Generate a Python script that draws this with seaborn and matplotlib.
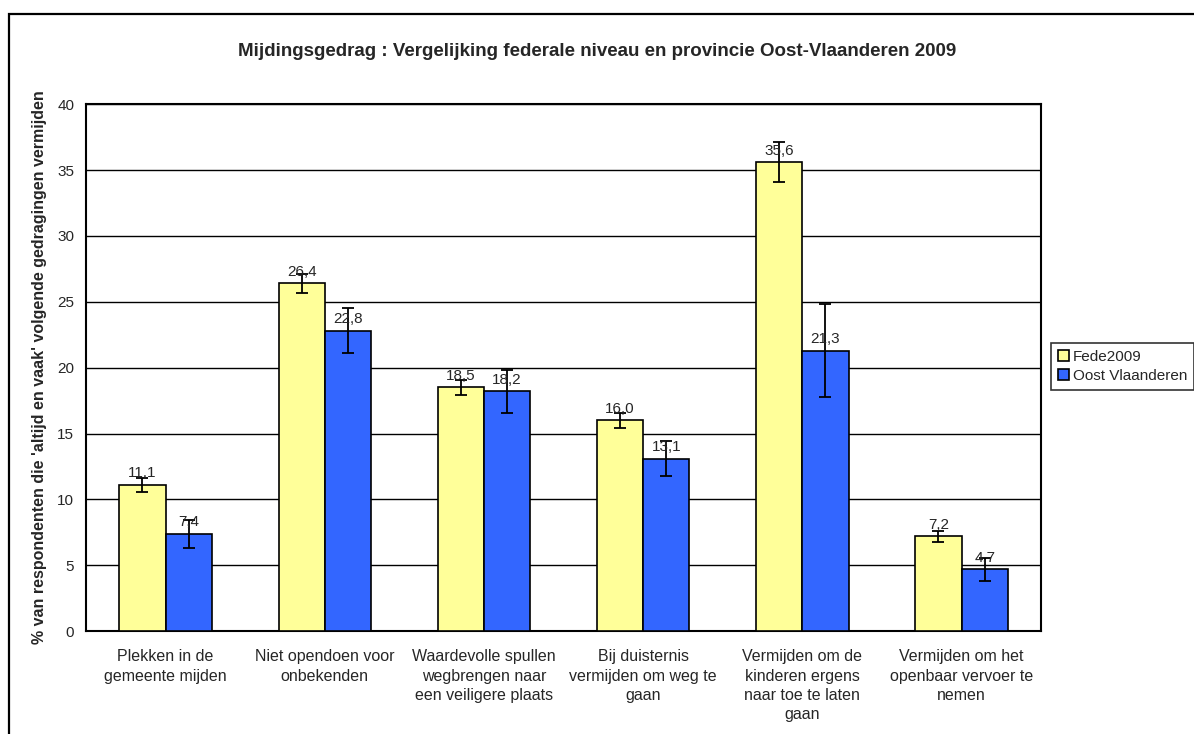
import matplotlib
matplotlib.use("Agg")
import matplotlib.pyplot as plt
import pandas as pd
import seaborn as sns
from matplotlib.patches import Rectangle

categories = [
    "Plekken in de\ngemeente mijden",
    "Niet opendoen voor\nonbekenden",
    "Waardevolle spullen\nwegbrengen naar\neen veiligere plaats",
    "Bij duisternis\nvermijden om weg te\ngaan",
    "Vermijden om de\nkinderen ergens\nnaar toe te laten\ngaan",
    "Vermijden om het\nopenbaar vervoer te\nnemen",
]
series = ["Fede2009", "Oost Vlaanderen"]
fede_values = [11.1, 26.4, 18.5, 16.0, 35.6, 7.2]
oost_values = [7.4, 22.8, 18.2, 13.1, 21.3, 4.7]
fede_err = [0.5, 0.7, 0.55, 0.6, 1.5, 0.4]
oost_err = [1.05, 1.7, 1.6, 1.35, 3.5, 0.85]
colors = ["#FFFF99", "#3366FF"]

df = pd.DataFrame({
    "categorie": categories * 2,
    "reeks": [series[0]] * 6 + [series[1]] * 6,
    "waarde": fede_values + oost_values,
})

sns.set_style("white")
plt.rcParams["font.family"] = ["Liberation Sans", "DejaVu Sans"]

fig = plt.figure(figsize=(11.94, 7.34), dpi=100)
ax = fig.add_axes([0.072, 0.140, 0.800, 0.718])

sns.barplot(data=df, x="categorie", y="waarde", hue="reeks", palette=colors,
            errorbar=None, width=0.58, edgecolor="black", linewidth=1.2,
            saturation=1, ax=ax, zorder=3)

errs = [fede_err, oost_err]
vals = [fede_values, oost_values]
for cont, err, val in zip(ax.containers, errs, vals):
    xs = [p.get_x() + p.get_width() / 2 for p in cont.patches]
    ax.errorbar(xs, val, yerr=err, fmt="none", ecolor="black", elinewidth=1.3,
                capsize=4, capthick=1.3, zorder=5)
    for x, v in zip(xs, val):
        ax.text(x, v + 0.35, f"{v:.1f}".replace(".", ","), ha="center",
                va="bottom", fontsize=11, zorder=6)

ax.set_ylim(0, 40)
ax.set_xlim(-0.5, len(categories) - 0.5)
ax.set_yticks(range(0, 41, 5))
ax.yaxis.grid(True, color="black", linewidth=1)
ax.set_axisbelow(True)
ax.set_xticks([i - 0.5 for i in range(len(categories) + 1)], minor=False)
ax.set_xticklabels([""] * (len(categories) + 1))
ax.set_xticks(range(len(categories)), labels=categories, minor=True)
ax.tick_params(axis="x", which="minor", length=0, labelsize=11.5, pad=13)
ax.tick_params(axis="x", which="major", length=5, width=1.2, direction="out")
ax.tick_params(axis="y", length=5, width=1.2, direction="out", labelsize=11)
for lbl in ax.get_xticklabels(minor=True):
    lbl.set_linespacing(1.36)
ax.set_xlabel("")
ax.set_ylabel("")
for s in ax.spines.values():
    s.set_visible(True)
    s.set_color("black")
    s.set_linewidth(1.5)

fig.text(40 / 1194, 1 - 367 / 734,
         "% van respondenten die 'altijd en vaak' volgende gedragingen vermijden",
         rotation=90, ha="center", va="center", fontsize=11.5, fontweight="bold")

fig.text(0.50, 1 - 52 / 734,
         "Mijdingsgedrag : Vergelijking federale niveau en provincie Oost-Vlaanderen 2009",
         ha="center", va="center", fontsize=13.5, fontweight="bold")

leg = ax.legend(loc="upper left", bbox_to_anchor=(1051 / 1194, 1 - 343 / 734),
                bbox_transform=fig.transFigure, frameon=True, fancybox=False,
                fontsize=11, handlelength=0.75, handleheight=0.75,
                handletextpad=0.25, borderpad=0.45, labelspacing=0.35,
                borderaxespad=0)
leg.get_frame().set_edgecolor("black")
leg.get_frame().set_linewidth(1.2)

fig.patches.append(Rectangle((9 / 1194, -0.05), 1.1, 1 - 14 / 734 + 0.05,
                             transform=fig.transFigure, fill=False,
                             edgecolor="black", linewidth=1.6))

fig.savefig("out.png", dpi=100)
